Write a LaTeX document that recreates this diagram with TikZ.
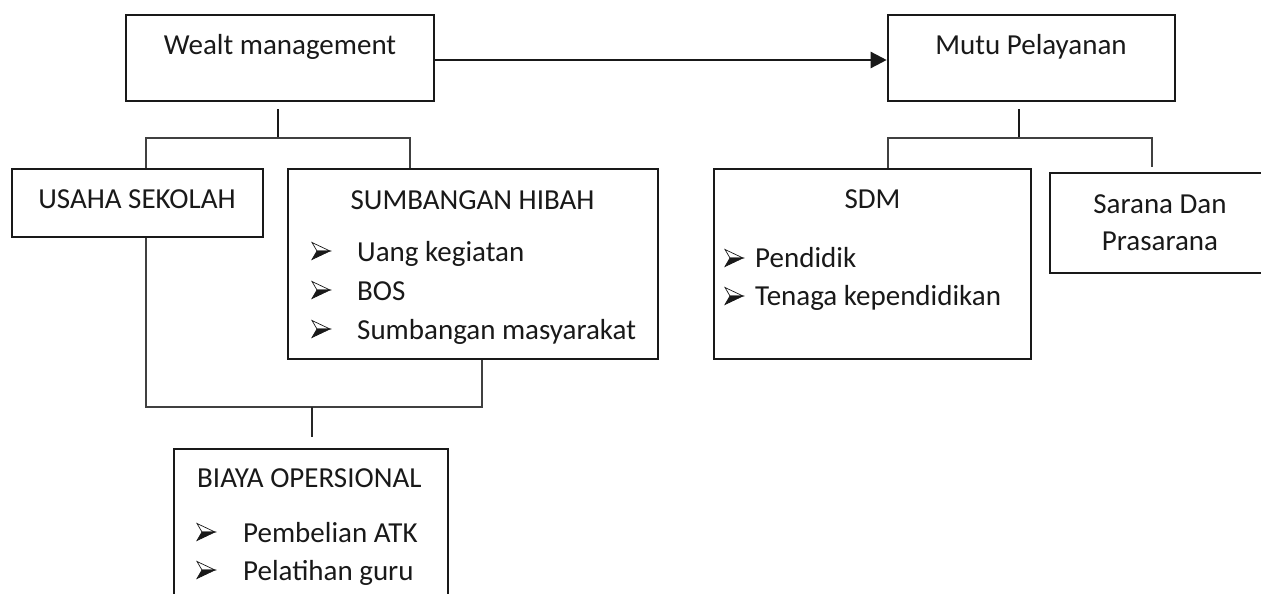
\documentclass[tikz,border=0pt]{standalone}
\usepackage{fontspec}
\setmainfont{Carlito}
\usetikzlibrary{arrows.meta,calc}
\begin{document}
\begin{tikzpicture}[x=1pt,y=-1pt,
  box/.style={draw=black!90,line width=2.6pt,inner sep=0pt,rectangle},
  txt/.style={inner sep=0pt,anchor=base,text=black!90,font=\fontsize{29}{37}\selectfont},
  ltxt/.style={txt,anchor=base west},
  stub/.style={line width=2pt,draw=black!90},
  branch/.style={line width=1.3pt,draw=black!75},
  arr/.style={line width=2.4pt,draw=black!90,-{Triangle[length=16pt,width=16pt]}},
  bul/.pic={
    \filldraw[fill=white,draw=black!90,line width=0.7pt,line join=miter] (0,-8.5) -- (18,0) -- (5,0) -- cycle;
    \filldraw[fill=black!90,draw=black!90,line width=0.7pt,line join=miter] (5,0) -- (18,0) -- (0,8.5) -- cycle;
  }
]
\useasboundingbox (0,0) rectangle (1261,594);
\clip (0,0) rectangle (1261,594);

% boxes
\node[box,minimum width=308pt,minimum height=86pt] (wm) at (280,58) {};
\node[box,minimum width=287pt,minimum height=86pt] (mp) at (1031.5,58) {};
\node[box,minimum width=251pt,minimum height=68pt] (us) at (137.5,203) {};
\node[box,minimum width=370pt,minimum height=190pt] (sh) at (473,264) {};
\node[box,minimum width=317pt,minimum height=190pt] (sdm) at (872.5,264) {};
\node[box,minimum width=220pt,minimum height=100pt] (sp) at (1160,223) {};
\node[box,minimum width=274pt,minimum height=191pt] (bo) at (311,544.5) {};

% texts
\node[txt] (twm) at (280,55) {Wealt management};
\node[txt] (tmp) at (1031,55) {Mutu Pelayanan};
\node[txt] (tus) at (137,208) {USAHA SEKOLAH};
\node[txt] (tsh) at (472.5,209) {SUMBANGAN HIBAH};
\node[ltxt] (tsh1) at (357,261) {Uang kegiatan};
\node[ltxt] (tsh2) at (357,300) {BOS};
\node[ltxt] (tsh3) at (357,339) {Sumbangan masyarakat};
\pic at (312,251) {bul};
\pic at (312,290) {bul};
\pic at (312,329) {bul};
\node[txt] (tsdm) at (872.5,208) {SDM};
\node[ltxt] (tsdm1) at (755,267) {Pendidik};
\node[ltxt] (tsdm2) at (755,305) {Tenaga kependidikan};
\pic at (725,258) {bul};
\pic at (725,296) {bul};
\node[txt] (tsp1) at (1160,213) {Sarana Dan};
\node[txt] (tsp2) at (1160,250) {Prasarana};
\node[ltxt] (tbo) at (197,487) {BIAYA OPERSIONAL};
\node[ltxt] (tbo1) at (243,542) {Pembelian ATK};
\node[ltxt] (tbo2) at (243,580) {Pelatihan guru};
\pic at (197,532) {bul};
\pic at (197,570) {bul};

% junction coordinates
\coordinate (wmS) at (278,109);
\coordinate (wmJ) at (278,138);
\coordinate (mpS) at (1019,109);
\coordinate (mpJ) at (1019,138);
\coordinate (botJ) at (312,407);
\coordinate (boS) at (312,437);

% connectors
\draw[arr] ($(wm.east)+(0,2)$) -- ($(mp.west)+(0,2)$);
\draw[stub] (wmS) -- (wmJ);
\draw[branch] (146,0 |- us.north) -- (146,138) -- (410,138) -- (410,0 |- sh.north);
\draw[stub] (mpS) -- (mpJ);
\draw[branch] (sdm.north -| 888,0) -- (888,138) -- (1152,138) -- (1152,167);
\draw[branch] (146,0 |- us.south) -- (146,407) -- (482,407) -- (482,0 |- sh.south);
\draw[line width=1.7pt,draw=black!85] (botJ) -- (boS);
\end{tikzpicture}
\end{document}
